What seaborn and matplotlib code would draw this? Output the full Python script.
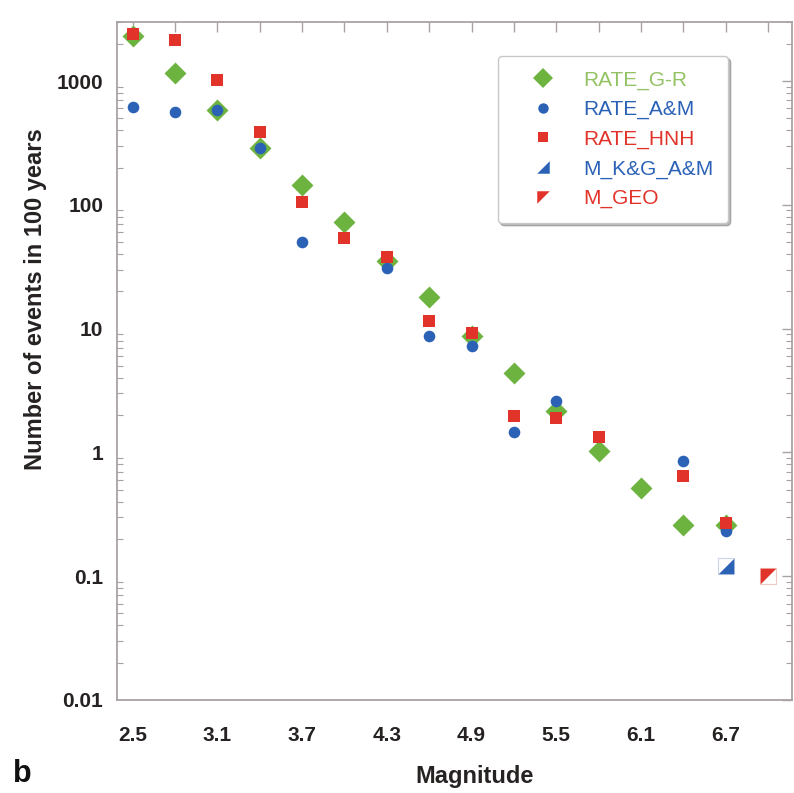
import numpy as np
import pandas as pd
import matplotlib
matplotlib.use("Agg")
import matplotlib.pyplot as plt
from matplotlib.lines import Line2D
from matplotlib.ticker import FixedLocator, LogLocator, NullFormatter
import seaborn as sns

# Magnitude bins (step 0.3)
magnitude = [2.5, 2.8, 3.1, 3.4, 3.7, 4.0, 4.3, 4.6, 4.9, 5.2, 5.5, 5.8, 6.1, 6.4, 6.7]

# Number of events in 100 years per magnitude bin
rate_gr = [2300, 1160, 580, 287, 144, 72, 35, 17.9, 8.7, 4.4, 2.17, 1.03, 0.52, 0.26, 0.26]
rate_am = [617, 561, 582, 287, 50, np.nan, 30.7, 8.7, 7.3, 1.47, 2.6, np.nan, np.nan, 0.86, 0.23]
rate_hnh = [2400, 2150, 1020, 386, 105, 54, 37.7, 11.6, 9.3, 1.95, 1.9, 1.33, np.nan, 0.64, 0.27]

# Maximum magnitudes
m_kg_am_mag = [6.7]
m_kg_am_val = [0.121]
m_geo_mag = [7.0]
m_geo_val = [0.1]

x_ticks = [2.5, 2.8, 3.1, 3.4, 3.7, 4.0, 4.3, 4.6, 4.9, 5.2, 5.5, 5.8, 6.1, 6.4, 6.7, 7.0]
x_labels = ["2.5", "", "3.1", "", "3.7", "", "4.3", "", "4.9", "", "5.5", "", "6.1", "", "6.7", ""]
y_ticks = [0.01, 0.1, 1, 10, 100, 1000]
y_labels = ["0.01", "0.1", "1", "10", "100", "1000"]

GREEN = "#6cb43f"
BLUE = "#2b62b6"
RED = "#e2332a"
INK = "#262222"

sns.set_theme(style="white")
plt.rcParams["font.family"] = ["Liberation Sans", "DejaVu Sans"]

fig = plt.figure(figsize=(7.94, 7.93), dpi=100)
ax = fig.add_axes([0.1474, 0.1173, 0.8501, 0.855])

df_gr = pd.DataFrame({"m": magnitude, "n": rate_gr})
df_am = pd.DataFrame({"m": magnitude, "n": rate_am}).dropna()
df_hnh = pd.DataFrame({"m": magnitude, "n": rate_hnh}).dropna()
df_kg = pd.DataFrame({"m": m_kg_am_mag, "n": m_kg_am_val})
df_geo = pd.DataFrame({"m": m_geo_mag, "n": m_geo_val})

sns.scatterplot(data=df_gr, x="m", y="n", marker="D", s=125, color=GREEN,
                linewidth=0, ax=ax, zorder=3)
sns.scatterplot(data=df_am, x="m", y="n", marker="o", s=70, color=BLUE,
                linewidth=0, ax=ax, zorder=4)
sns.scatterplot(data=df_hnh, x="m", y="n", marker="s", s=68, color=RED,
                linewidth=0, ax=ax, zorder=5)

lower_right = [(-1, -1), (1, -1), (1, 1), (-1, -1)]
upper_left = [(-1, -1), (-1, 1), (1, 1), (-1, -1)]

# half-filled squares for the maximum magnitude estimates
sns.scatterplot(data=df_kg, x="m", y="n", marker="s", s=125, color="white",
                edgecolor="#c9d5ec", linewidth=0.8, ax=ax, zorder=5)
sns.scatterplot(data=df_kg, x="m", y="n", marker=lower_right, s=125, color=BLUE,
                linewidth=0, ax=ax, zorder=6)
sns.scatterplot(data=df_geo, x="m", y="n", marker="s", s=125, color="white",
                edgecolor="#f1c9c4", linewidth=0.8, ax=ax, zorder=5)
sns.scatterplot(data=df_geo, x="m", y="n", marker=upper_left, s=125, color=RED,
                linewidth=0, ax=ax, zorder=6)

ax.set_yscale("log")
ax.set_xlim(2.389, 7.17)
ax.set_ylim(0.01, 3000)

ax.xaxis.set_major_locator(FixedLocator(x_ticks))
ax.set_xticklabels(x_labels, fontweight="bold")
ax.yaxis.set_major_locator(FixedLocator(y_ticks))
ax.set_yticklabels(y_labels, fontweight="bold")
ax.yaxis.set_minor_locator(LogLocator(base=10, subs=np.arange(2, 10)))
ax.yaxis.set_minor_formatter(NullFormatter())

spine_col = "#a9a2a2"
for sp in ax.spines.values():
    sp.set_color(spine_col)
    sp.set_linewidth(1.3)

ax.tick_params(axis="both", which="major", direction="in", length=7, width=1.0,
               color=spine_col, top=True, right=True, labelsize=15,
               labelcolor=INK)
ax.tick_params(axis="y", which="major", pad=10)
ax.tick_params(axis="y", which="minor", direction="in", length=4, width=0.8,
               color=spine_col, right=True, left=True)
ax.tick_params(axis="x", which="major", pad=19)

ax.set_xlabel("Magnitude", fontsize=17, fontweight="bold", color=INK)
ax.xaxis.set_label_coords(0.529, -0.096)
ax.set_ylabel("Number of events in 100 years", fontsize=17, fontweight="bold", color=INK)
ax.yaxis.set_label_coords(-0.104, 0.591)

fig.text(0.016, 0.014, "b", fontsize=22, fontweight="bold", color="#111111")

handles = [
    Line2D([], [], linestyle="none", marker="D", markersize=10.6, color=GREEN, markeredgewidth=0),
    Line2D([], [], linestyle="none", marker="o", markersize=7.5, color=BLUE, markeredgewidth=0),
    Line2D([], [], linestyle="none", marker="s", markersize=7.5, color=RED, markeredgewidth=0),
    Line2D([], [], linestyle="none", marker=lower_right, markersize=9, color=BLUE, markeredgewidth=0),
    Line2D([], [], linestyle="none", marker=upper_left, markersize=9, color=RED, markeredgewidth=0),
]
names = ["RATE_G-R", "RATE_A&M", "RATE_HNH", "M_K&G_A&M", "M_GEO"]
text_cols = ["#93c264", BLUE, RED, BLUE, RED]

leg = ax.legend(handles, names, loc="upper right", bbox_to_anchor=(0.905, 0.95),
                borderaxespad=0, fontsize=15, frameon=True, fancybox=True,
                shadow={"color": "#8a8a8a", "alpha": 0.6}, edgecolor="#c8c8c8",
                framealpha=1, handletextpad=0.4, labelspacing=0.5,
                borderpad=0.7, handlelength=3.0)
for t, c in zip(leg.get_texts(), text_cols):
    t.set_color(c)

fig.savefig("out.png", dpi=100)
